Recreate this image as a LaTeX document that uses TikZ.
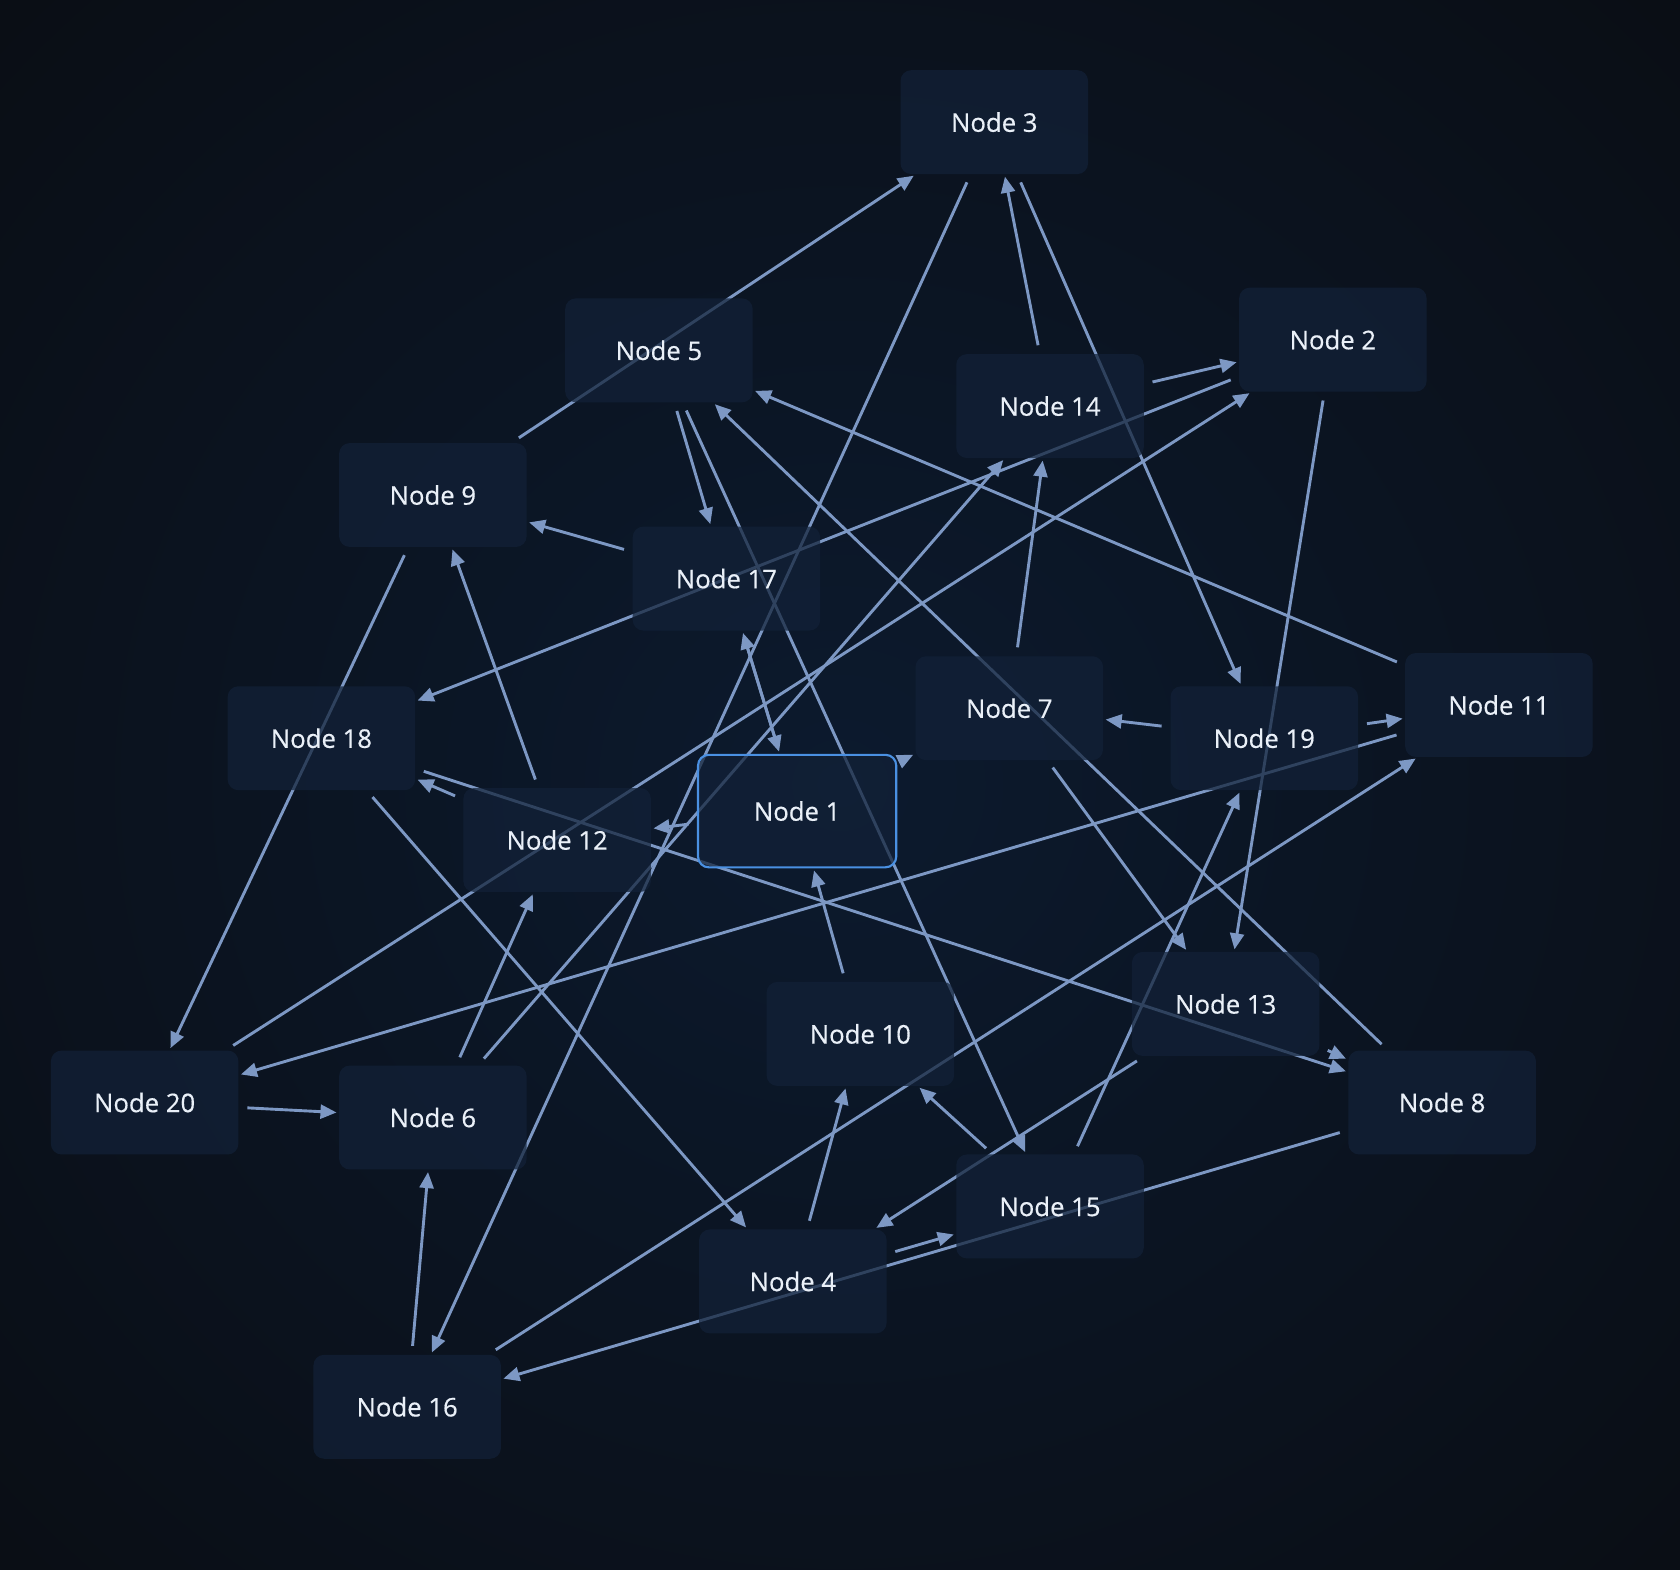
\documentclass[tikz,border=0pt]{standalone}
\usepackage{fontspec}
\setmainfont{Open Sans}[FakeBold=0.5]
\usetikzlibrary{arrows.meta}
\pgfdeclarelayer{bg}
\pgfdeclarelayer{edges}
\pgfsetlayers{bg,edges,main}
\definecolor{bgin}{RGB}{12,26,46}
\definecolor{bgout}{RGB}{10,14,21}
\definecolor{nodefill}{RGB}{18,33,56}
\definecolor{edgecol}{RGB}{125,152,196}
\definecolor{txtcol}{RGB}{234,240,248}
\definecolor{selblue}{RGB}{74,144,226}
\begin{document}
\begin{tikzpicture}[x=0.5pt,y=-0.5pt,
  box/.style={fill=nodefill, fill opacity=0.72, text opacity=1, rounded corners=5pt,
    minimum width=87.5pt, minimum height=48.5pt, inner sep=0pt, text=txtcol,
    font=\fontsize{12}{14}\selectfont},
  edge/.style={draw=edgecol, line width=1.35pt, -{Triangle[length=7.5pt,width=6.5pt]},
    shorten <=4pt, shorten >=1pt}]
\useasboundingbox (0,0) rectangle (1568,1465);
\begin{pgfonlayer}{bg}
  \shade[inner color=bgin, outer color=bgout] (-300,-300) rectangle (1868,1765);
\end{pgfonlayer}
% nodes
\node[box] (n3)  at (928,114)  {Node 3};
\node[box] (n5)  at (615,327)  {Node 5};
\node[box] (n2)  at (1244,317) {Node 2};
\node[box] (n14) at (980,379)  {Node 14};
\node[box] (n9)  at (404,462)  {Node 9};
\node[box] (n17) at (678,540)  {Node 17};
\node[box] (n18) at (300,689)  {Node 18};
\node[box] (n7)  at (942,661)  {Node 7};
\node[box] (n19) at (1180,689) {Node 19};
\node[box] (n11) at (1399,658) {Node 11};
\node[box, draw=selblue, line width=1pt, minimum width=92.5pt, minimum height=52.5pt] (n1) at (744,757) {Node 1};
\node[box] (n12) at (520,784)  {Node 12};
\node[box] (n13) at (1144,937) {Node 13};
\node[box] (n10) at (803,965)  {Node 10};
\node[box] (n20) at (135,1029) {Node 20};
\node[box] (n6)  at (404,1043) {Node 6};
\node[box] (n8)  at (1346,1029) {Node 8};
\node[box] (n15) at (980,1126) {Node 15};
\node[box] (n4)  at (740,1196) {Node 4};
\node[box] (n16) at (380,1313) {Node 16};
% edges
\begin{pgfonlayer}{edges}
\draw[edge] (n9) -- (n3);
\draw[edge] (n3) -- (n16);
\draw[edge] (n14) -- (n3);
\draw[edge] (n3) -- (n19);
\draw[edge] (n14) -- (n2);
\draw[edge] (n2) -- (n18);
\draw[edge] (n20) -- (n2);
\draw[edge] (n2) -- (n13);
\draw[edge] (n5) -- (n17);
\draw[edge] (n5) -- (n15);
\draw[edge] (n8) -- (n5);
\draw[edge] (n11) -- (n5);
\draw[edge] (n17) -- (n9);
\draw[edge] (n9) -- (n20);
\draw[edge] (n12) -- (n9);
\draw[edge] (n17) -- (n1);
\draw[edge] (n1) -- (n17);
\draw[edge] (n10) -- (n1);
\draw[edge] (n7) -- (n14);
\draw[edge] (n6) -- (n14);
\draw[edge] (n19) -- (n7);
\draw[edge] (n19) -- (n11);
\draw[edge] (n11) -- (n20);
\draw[edge] (n16) -- (n11);
\draw[edge] (n7) -- (n13);
\draw[edge] (n18) -- (n8);
\draw[edge] (n13) -- (n8);
\draw[edge] (n12) -- (n18);
\draw[edge] (n1) -- (n12);
\draw[edge] (n1) -- (n7);
\draw[edge] (n18) -- (n4);
\draw[edge] (n6) -- (n12);
\draw[edge] (n20) -- (n6);
\draw[edge] (n16) -- (n6);
\draw[edge] (n4) -- (n10);
\draw[edge] (n15) -- (n10);
\draw[edge] (n13) -- (n4);
\draw[edge] (n15) -- (n19);
\draw[edge] (n4) -- (n15);
\draw[edge] (n8) -- (n16);
\end{pgfonlayer}
\end{tikzpicture}
\end{document}
